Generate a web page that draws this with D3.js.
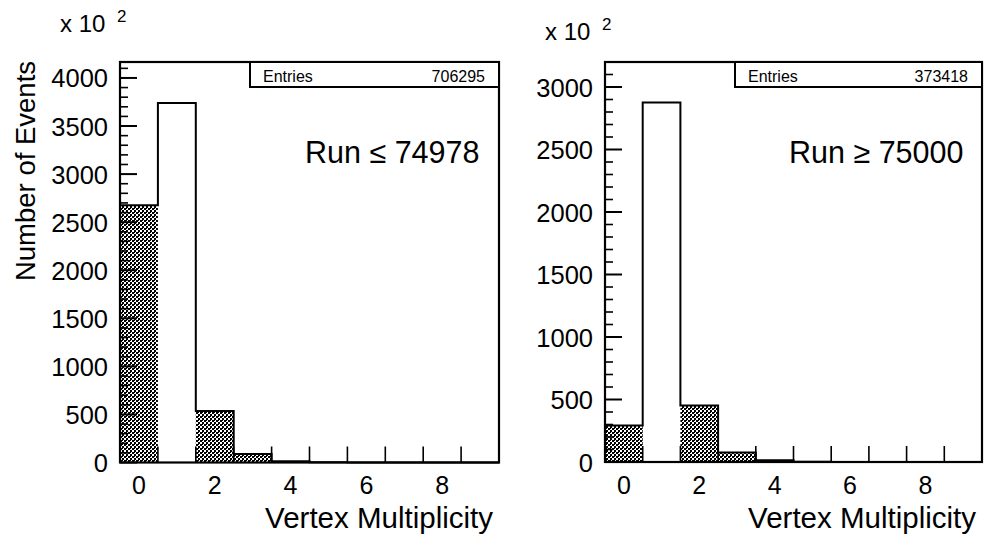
<!DOCTYPE html>
<html>
<head>
<meta charset="utf-8">
<script src="https://cdn.jsdelivr.net/npm/d3@7"></script>
<style>
  html, body { margin: 0; padding: 0; background: #fff; }
  svg { display: block; }
  text { font-family: "Liberation Sans", Arial, Helvetica, sans-serif; fill: #000; }
</style>
</head>
<body>
<svg id="chart" width="988" height="539"></svg>
<script>
// ---- data (values in units of 10^2 events) ----
const bins = [0, 1, 2, 3, 4, 5, 6, 7, 8, 9];
const leftCounts   = [2677, 3740, 535, 88, 13, 2, 0, 0, 0, 0];
const leftHatched  = [2677, 0,    535, 88, 13, 2, 0, 0, 0, 0];
const rightCounts  = [293, 2877, 452, 76, 14, 2, 0, 0, 0, 0];
const rightHatched = [293, 0,    452, 76, 14, 2, 0, 0, 0, 0];
const leftEntries = "706295";
const rightEntries = "373418";
const leftLabel = "Run \u2264 74978";
const rightLabel = "Run \u2265 75000";
const xTickLabels = [0, 2, 4, 6, 8];
const xTickMarks = [0.5, 1.5, 2.5, 3.5, 4.5, 5.5, 6.5, 7.5, 8.5];
const xTitle = "Vertex Multiplicity";
const yTitle = "Number of Events";

const svg = d3.select("#chart");

// hatch pattern (ROOT-like dense checker)
const defs = svg.append("defs");
const pat = defs.append("pattern")
  .attr("id", "hatch").attr("patternUnits", "userSpaceOnUse")
  .attr("width", 4).attr("height", 4);
pat.append("rect").attr("width", 4).attr("height", 4).attr("fill", "#fff");
pat.append("rect").attr("x", 0).attr("y", 0).attr("width", 2).attr("height", 2).attr("fill", "#000");
pat.append("rect").attr("x", 2).attr("y", 2).attr("width", 2).attr("height", 2).attr("fill", "#000");
pat.append("rect").attr("x", 2).attr("y", 0).attr("width", 1).attr("height", 1).attr("fill", "#000");

function panel(cfg) {
  const g = svg.append("g");
  const x = d3.scaleLinear().domain([-0.5, 9.5]).range([cfg.left, cfg.right]);
  const y = d3.scaleLinear().domain([0, cfg.ymax]).range([cfg.bottom, cfg.top]);

  // hatched bars
  g.selectAll("rect.hatch").data(bins.filter(b => cfg.hatched[b] > 0)).join("rect")
    .attr("class", "hatch")
    .attr("x", b => x(b - 0.5)).attr("width", b => x(b + 0.5) - x(b - 0.5))
    .attr("y", b => y(cfg.hatched[b])).attr("height", b => y(0) - y(cfg.hatched[b]))
    .attr("fill", "url(#hatch)");

  // step outline of histogram
  const pts = [];
  bins.forEach(b => {
    pts.push([x(b - 0.5), y(cfg.counts[b])]);
    pts.push([x(b + 0.5), y(cfg.counts[b])]);
  });
  pts.unshift([x(-0.5), y(0)]);
  pts.push([x(9.5), y(0)]);
  g.append("path").attr("d", d3.line()(pts))
    .attr("fill", "none").attr("stroke", "#000").attr("stroke-width", 2);

  // y ticks (major every 500, minor every 100)
  const minor = d3.range(0, cfg.ymax + 1, 100);
  g.selectAll("line.ymin").data(minor).join("line")
    .attr("x1", cfg.left).attr("x2", d => cfg.left + (d % 500 === 0 ? 17 : 8))
    .attr("y1", d => y(d)).attr("y2", d => y(d))
    .attr("stroke", "#000").attr("stroke-width", d => d % 500 === 0 ? 2 : 1.6);

  // y tick labels
  const major = d3.range(0, cfg.ymax + 1, 500);
  g.selectAll("text.ylab").data(major).join("text")
    .attr("x", cfg.left - 12).attr("y", d => y(d) + 9.5)
    .attr("text-anchor", "end").attr("font-size", 25.5)
    .text(d => d);

  // x ticks at bin edges
  g.selectAll("line.xt").data(xTickMarks).join("line")
    .attr("x1", d => x(d)).attr("x2", d => x(d))
    .attr("y1", cfg.bottom).attr("y2", cfg.bottom - 16)
    .attr("stroke", "#000").attr("stroke-width", 1.6);

  // x labels
  g.selectAll("text.xlab").data(xTickLabels).join("text")
    .attr("x", d => x(d)).attr("y", 493.5)
    .attr("text-anchor", "middle").attr("font-size", 25)
    .text(d => d);

  // frame
  g.append("rect").attr("x", cfg.left).attr("y", cfg.top)
    .attr("width", cfg.right - cfg.left).attr("height", cfg.bottom - cfg.top)
    .attr("fill", "none").attr("stroke", "#000").attr("stroke-width", 2.2);

  // stats box
  g.append("rect").attr("x", cfg.statX).attr("y", cfg.top)
    .attr("width", cfg.right - cfg.statX).attr("height", 25)
    .attr("fill", "#fff").attr("stroke", "#000").attr("stroke-width", 2);
  g.append("text").attr("x", cfg.statX + 13).attr("y", cfg.top + 19.5)
    .attr("font-size", 16).text("Entries");
  g.append("text").attr("x", cfg.right - 14).attr("y", cfg.top + 19.5)
    .attr("font-size", 16).attr("text-anchor", "end").text(cfg.entries);

  // run label
  g.append("text").attr("x", cfg.runX).attr("y", 163)
    .attr("font-size", 30.5).text(cfg.run);

  // x title
  g.append("text").attr("x", cfg.right - 6).attr("y", 528)
    .attr("text-anchor", "end").attr("font-size", 29.5).text(xTitle);

  // x 10^2
  g.append("text").attr("x", cfg.expX).attr("y", cfg.expY)
    .attr("font-size", 24).text("x 10");
  g.append("text").attr("x", cfg.expX + 57).attr("y", cfg.expY - 10)
    .attr("font-size", 17).text("2");
}

panel({ left: 120, right: 499, top: 62, bottom: 462.5, ymax: 4166,
        counts: leftCounts, hatched: leftHatched, entries: leftEntries,
        statX: 250, run: leftLabel, runX: 305, expX: 60, expY: 32 });
panel({ left: 605, right: 982, top: 62, bottom: 462, ymax: 3200,
        counts: rightCounts, hatched: rightHatched, entries: rightEntries,
        statX: 735, run: rightLabel, runX: 789, expX: 545, expY: 40 });

// y title (left only)
svg.append("text")
  .attr("transform", "translate(35,171) rotate(-90)")
  .attr("text-anchor", "middle").attr("font-size", 27.5)
  .text(yTitle);
</script>
</body>
</html>
